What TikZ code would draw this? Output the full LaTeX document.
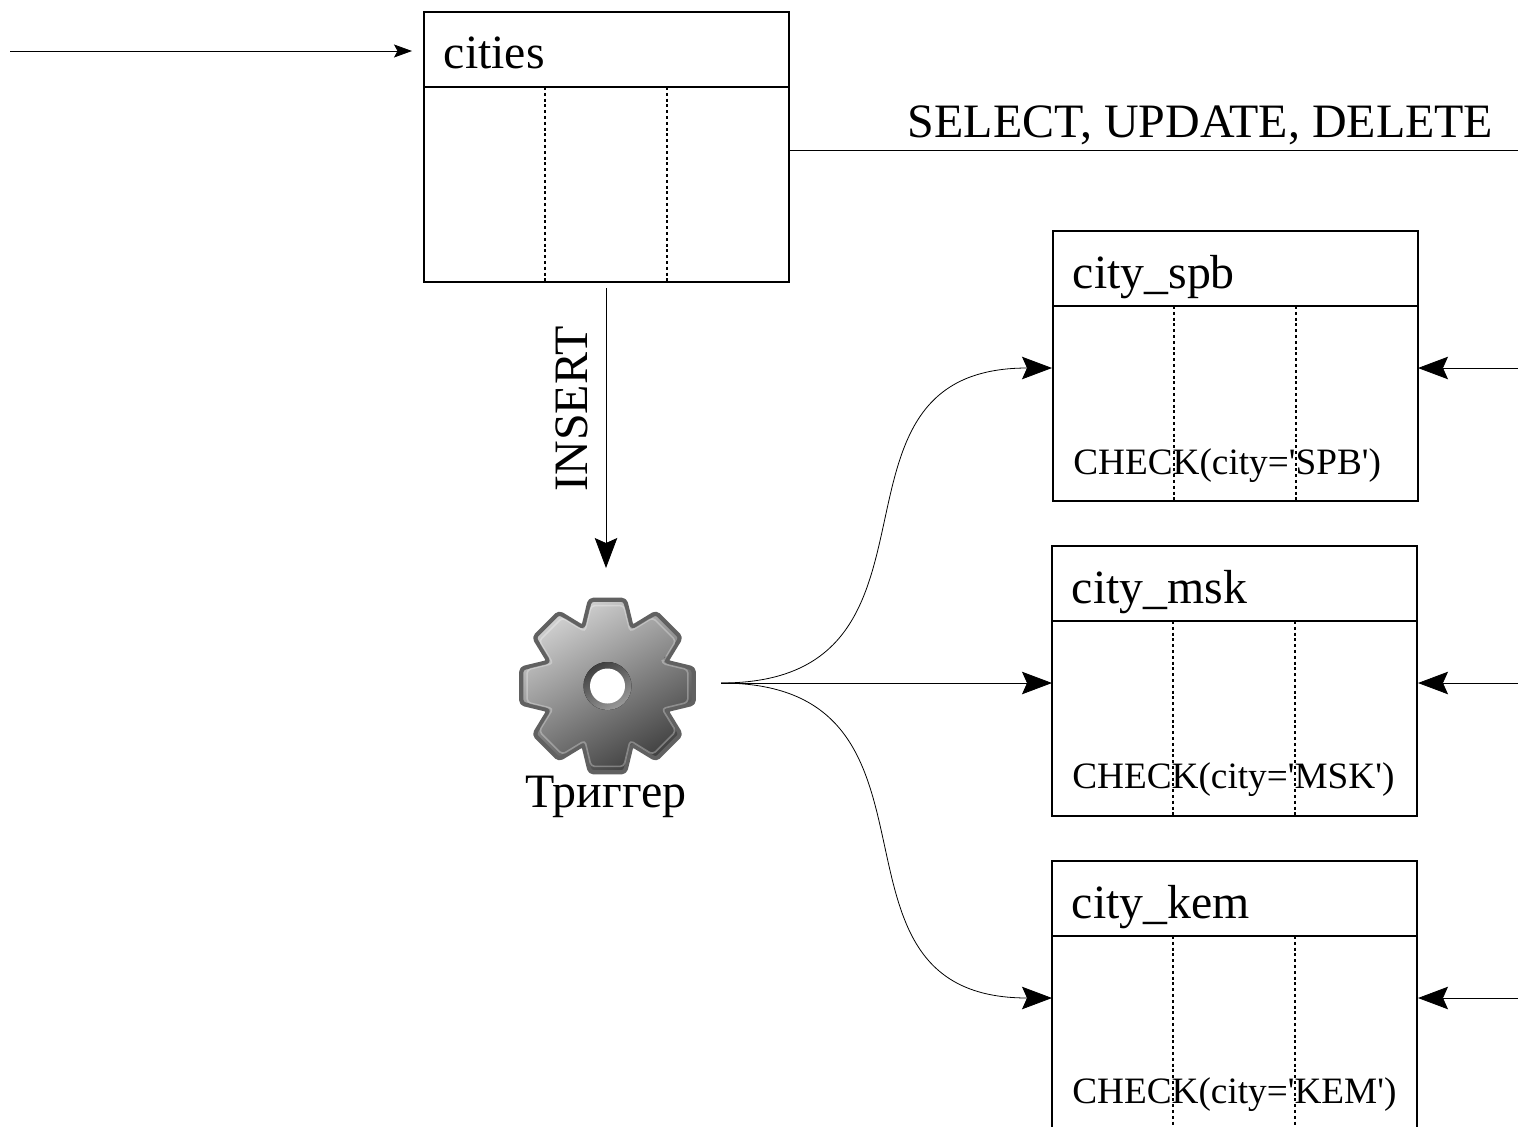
\documentclass[tikz,border=0pt]{standalone}
\usepackage{fontspec}
\setmainfont{Liberation Serif}
\newfontfamily\plainserif{Liberation Serif}
\usetikzlibrary{arrows.meta,calc}
\tikzset{
    tablebox/.style={draw, line width=0.8pt, outer sep=0pt, minimum width=7.3cm, minimum height=5.4cm, anchor=north west, inner sep=0pt},
    tabletitle/.style={anchor=base west, inner sep=0pt, font=\fontsize{27.2}{30}\selectfont},
    checktext/.style={anchor=base west, inner sep=0pt, font=\plainserif\fontsize{21.2}{24}\selectfont},
    bigtext/.style={inner sep=0pt, font=\fontsize{27.3}{30}\selectfont},
    coldash/.style={line width=1.25pt, dash pattern=on 1.7pt off 1.6pt},
    wire/.style={line width=0.45pt},
    bigtip/.style={wire, -{Stealth[length=0.6cm, width=0.45cm, inset=0.1cm]}},
    smalltip/.style={wire, -{Stealth[length=0.36cm, width=0.26cm, inset=0.07cm]}},
}
\newcommand{\citytable}[5]{
    \node[tablebox] (#1) at (#2,#3) {};
    \node[tabletitle] (#1title) at ($(#1.north west)+(19.5,#5)$) {#4};
    \draw[line width=0.8pt] ($(#1.north west)+(0,75)$) -- ($(#1.north east)+(0,75)$);
    \draw[coldash] ($(#1.north west)+(121,75)$) -- ($(#1.south west)+(121,0)$);
    \draw[coldash] ($(#1.north west)+(243,75)$) -- ($(#1.south west)+(243,0)$);
}
\newcommand{\gearshape}[1]{
    (-22.5:#1*0.72) \foreach \a in {0,45,...,315} {
        -- (\a-11.5:#1) -- (\a+11.5:#1) -- (\a+22.5:#1*0.72)
    } -- cycle
}
\begin{document}
\begin{tikzpicture}[x=0.02cm, y=-0.02cm]
    \path[use as bounding box, clip] (0,0) rectangle (1518,1126);

    % tables
    \citytable{cities}{424}{12}{cities}{56}
    \citytable{spb}{1053}{231}{city\_spb}{57.5}
    \citytable{msk}{1052}{546}{city\_msk}{57.5}
    \citytable{kem}{1052}{861}{city\_kem}{57.5}
    \node[checktext] (spbcheck) at (1073,474) {CHECK(city='SPB')};
    \node[checktext] (mskcheck) at (1072,788) {CHECK(city='MSK')};
    \node[checktext] (kemcheck) at (1072,1103) {CHECK(city='KEM')};

    % gear
    \begin{scope}[shift={(607.5,686)}]
        \fill[draw=black!62, line width=2.4pt, line join=round, rounded corners=2pt, left color=black!18, right color=black!75, shading angle=30]
            \gearshape{88};
        \draw[white, opacity=0.3, line width=0.9pt, rounded corners=2pt] \gearshape{82};
        \fill[left color=black!75, right color=black!40, shading angle=30] (0,0) circle (24);
        \fill[white] (0,0) circle (17.5);
    \end{scope}
    \node[bigtext] (trigger) at (606,797) {Триггер};
    \coordinate (triggerout) at (721,683);
    \coordinate (triggerin) at (606,568);

    % free ends
    \coordinate (start) at (10,51);
    \coordinate (citiesin) at (412,51);
    \coordinate (citiesout) at (606,288);
    \coordinate (citiesright) at (790,150);
    \coordinate (edge) at (1518,150);

    \draw[smalltip] (start) -- (citiesin);
    \draw[wire] (citiesright) -- (edge) node[bigtext, pos=0.564, above=2.8pt] (selectlabel) {SELECT, UPDATE, DELETE};
    \draw[bigtip] (citiesout) -- (triggerin);
    \node[bigtext, rotate=90] (insertlabel) at (572,409) {INSERT};

    % trigger to tables
    \coordinate (spbleft) at (1052,368);
    \coordinate (mskleft) at (1052,683);
    \coordinate (kemleft) at (1052,998);
    \draw[bigtip] (triggerout) .. controls +(250,0) and +(-250,0) .. (spbleft);
    \draw[bigtip] (triggerout) -- (mskleft);
    \draw[bigtip] (triggerout) .. controls +(250,0) and +(-250,0) .. (kemleft);

    % right side
    \coordinate (spbright) at (1418,368);
    \coordinate (mskright) at (1418,683);
    \coordinate (kemright) at (1418,998);
    \coordinate (spbfar) at (1518,368);
    \coordinate (mskfar) at (1518,683);
    \coordinate (kemfar) at (1518,998);
    \draw[bigtip] (spbfar) -- (spbright);
    \draw[bigtip] (mskfar) -- (mskright);
    \draw[bigtip] (kemfar) -- (kemright);
\end{tikzpicture}
\end{document}
